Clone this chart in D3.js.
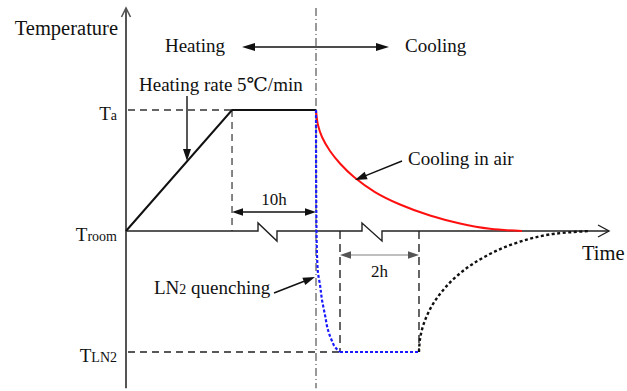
<!DOCTYPE html>
<html>
<head>
<meta charset="utf-8">
<script src="https://cdn.jsdelivr.net/npm/d3@7"></script>
<style>
  body { margin: 0; background: #fff; }
  svg { display: block; }
</style>
</head>
<body>
<svg id="chart" width="627" height="391" font-family="'Times New Roman', 'Liberation Serif', Tinos, 'DejaVu Serif', serif"></svg>
<script>
// Temperature levels in relative units: room = 0, annealing = 1, liquid nitrogen = -1
const levelValues = [1, 0, -1];
const levelMain = ["T", "T", "T"];
const levelSub = ["a", "room", "LN2"];

// Heating at 5 °C/min followed by the 10 h soak
const heatTime = [0, 21.95, 39.34];
const heatTemp = [0, 1, 1];

// Cooling in air (red)
const airTime = [39.34, 39.75, 40.58, 42.24, 44.31, 47.20, 51.55, 56.73, 62.94, 69.15, 75.36, 81.99];
const airTemp = [1.000, 0.876, 0.777, 0.661, 0.558, 0.446, 0.322, 0.219, 0.128, 0.062, 0.018, 0];

// LN2 quenching (blue) and the 2 h hold at LN2 temperature
const quenchTime = [39.34, 39.36, 39.44, 39.69, 40.17, 40.58, 41.20, 41.82, 42.65, 43.27, 44.31];
const quenchTemp = [1, 0.5, 0, -0.322, -0.446, -0.570, -0.694, -0.818, -0.909, -0.959, -1];
const holdTime = [44.31, 60.66];
const holdTemp = [-1, -1];

// Return to room temperature after the hold (black dotted)
const rewarmTime = [60.66, 60.87, 61.49, 62.53, 63.98, 66.05, 68.53, 71.84, 76.40, 81.57, 87.78, 96.07];
const rewarmTemp = [-1, -0.893, -0.785, -0.680, -0.577, -0.470, -0.371, -0.271, -0.169, -0.088, -0.028, 0];

// Axis-break symbols on the time axis (start, end)
const breakStart = [27.33, 48.86];
const breakEnd = [31.26, 53.00];

// Text
const phaseLabels = ["Heating", "Cooling"];
const axisTitles = ["Temperature", "Time"];

const svg = d3.select("#chart");
const x = d3.scaleLinear().domain([0, 100]).range([126, 609]);
const y = d3.scaleLinear().domain([-1, 1]).range([352, 110]);

const zip = (a, b) => a.map((v, i) => [v, b[i]]);
const lineX = d3.line().x(d => x(d[0])).y(d => y(d[1]));

function head(g, x1, y1, x2, y2, len, hw, color) {
  const a = Math.atan2(y2 - y1, x2 - x1);
  const bx = x2 - len * Math.cos(a), by = y2 - len * Math.sin(a);
  const px = -Math.sin(a) * hw, py = Math.cos(a) * hw;
  g.append("path")
    .attr("d", `M${x2},${y2}L${bx + px},${by + py}L${bx - px},${by - py}Z`)
    .attr("fill", color);
}
function arrow(g, x1, y1, x2, y2, opt) {
  const o = Object.assign({ color: "#111", headColor: null, w: 1.4, len: 10, hw: 3.5, both: false }, opt);
  const a = Math.atan2(y2 - y1, x2 - x1);
  const sx = o.both ? x1 + Math.cos(a) * o.len * 0.8 : x1;
  const sy = o.both ? y1 + Math.sin(a) * o.len * 0.8 : y1;
  g.append("line")
    .attr("x1", sx).attr("y1", sy)
    .attr("x2", x2 - Math.cos(a) * o.len * 0.8).attr("y2", y2 - Math.sin(a) * o.len * 0.8)
    .attr("stroke", o.color).attr("stroke-width", o.w);
  head(g, x1, y1, x2, y2, o.len, o.hw, o.headColor || o.color);
  if (o.both) head(g, x2, y2, x1, y1, o.len, o.hw, o.headColor || o.color);
}

const g = svg.append("g").attr("fill", "#111");
const yTop = 1.843, yBot = -1.30;

// Reference dashed lines for Ta and TLN2
g.append("line").attr("x1", x(0) + 2).attr("x2", x(heatTime[1])).attr("y1", y(1)).attr("y2", y(1))
  .attr("stroke", "#333").attr("stroke-width", 1.3).attr("stroke-dasharray", "7,5");
g.append("line").attr("x1", x(heatTime[1])).attr("x2", x(heatTime[1])).attr("y1", y(1)).attr("y2", y(0))
  .attr("stroke", "#444").attr("stroke-width", 1.3).attr("stroke-dasharray", "7,5");
g.append("line").attr("x1", x(0) + 2).attr("x2", x(holdTime[0])).attr("y1", y(-1)).attr("y2", y(-1))
  .attr("stroke", "#222").attr("stroke-width", 1.3).attr("stroke-dasharray", "7,5");
[holdTime[0], holdTime[1]].forEach(t => {
  g.append("line").attr("x1", x(t)).attr("x2", x(t)).attr("y1", y(0)).attr("y2", y(-1))
    .attr("stroke", "#555").attr("stroke-width", 1.8).attr("stroke-dasharray", "8,5");
});

// Heating / cooling boundary (dash-dot)
g.append("line").attr("x1", x(heatTime[2])).attr("x2", x(heatTime[2]))
  .attr("y1", y(yTop)).attr("y2", y(yBot))
  .attr("stroke", "#333").attr("stroke-width", 1).attr("stroke-dasharray", "8,3,1,3");

// Time axis with break symbols
let axisPath = `M${x(0)},${y(0)}`;
breakStart.forEach((s, i) => {
  axisPath += `L${x(s)},${y(0)}L${x(s)},${y(0) - 8}L${x(breakEnd[i])},${y(0) + 10}L${x(breakEnd[i])},${y(0)}`;
});
axisPath += `L${x(100)},${y(0)}`;
g.append("path").attr("d", axisPath).attr("fill", "none").attr("stroke", "#222").attr("stroke-width", 1.4);
g.append("path").attr("d", `M${x(100) - 11},${y(0) - 6}L${x(100)},${y(0)}L${x(100) - 11},${y(0) + 6}`)
  .attr("fill", "none").attr("stroke", "#222").attr("stroke-width", 1.4);

// Temperature axis
g.append("line").attr("x1", x(0)).attr("x2", x(0)).attr("y1", y(yTop)).attr("y2", y(yBot))
  .attr("stroke", "#555").attr("stroke-width", 2);
g.append("path").attr("d", `M${x(0) - 4.5},${y(yTop) + 9}L${x(0)},${y(yTop)}L${x(0) + 4.5},${y(yTop) + 9}`)
  .attr("fill", "none").attr("stroke", "#555").attr("stroke-width", 1.6);

// Heating profile
g.append("path").datum(zip(heatTime, heatTemp)).attr("d", lineX)
  .attr("fill", "none").attr("stroke", "#111").attr("stroke-width", 2);

// Cooling in air
g.append("path").datum(zip(airTime, airTemp)).attr("d", lineX.curve(d3.curveCatmullRom.alpha(0.5)))
  .attr("fill", "none").attr("stroke", "#ff1010").attr("stroke-width", 2);

// Return to room temperature
g.append("path").datum(zip(rewarmTime, rewarmTemp)).attr("d", lineX.curve(d3.curveCatmullRom.alpha(0.5)))
  .attr("fill", "none").attr("stroke", "#111").attr("stroke-width", 2.4).attr("stroke-dasharray", "3,2.5");

// LN2 quenching and hold
g.append("path").datum(zip(quenchTime, quenchTemp)).attr("d", lineX.curve(d3.curveMonotoneY))
  .attr("fill", "none").attr("stroke", "#1a1aff").attr("stroke-width", 2.2).attr("stroke-dasharray", "3,2");
g.append("path").datum(zip(holdTime, holdTemp)).attr("d", lineX.curve(d3.curveLinear))
  .attr("fill", "none").attr("stroke", "#1a1aff").attr("stroke-width", 2.2).attr("stroke-dasharray", "3,2");

// Level labels
levelValues.forEach((v, i) => {
  const t = g.append("text").attr("x", x(0) - 9).attr("y", y(v) + 10).attr("text-anchor", "end");
  t.append("tspan").attr("font-size", 19).text(levelMain[i]);
  t.append("tspan").attr("font-size", 14).text(levelSub[i]);
});

// Axis titles
g.append("text").attr("x", x(0) - 8).attr("y", 35).attr("text-anchor", "end")
  .attr("font-size", 20.5).text(axisTitles[0]);
g.append("text").attr("x", 582).attr("y", 260).attr("font-size", 20.5).text(axisTitles[1]);

// Heating <-> Cooling
g.append("text").attr("x", 195).attr("y", 52).attr("text-anchor", "middle").attr("font-size", 19).text(phaseLabels[0]);
g.append("text").attr("x", 405).attr("y", 52).attr("font-size", 19).text(phaseLabels[1]);
arrow(g, 242, 47, 389, 47, { both: true, len: 13, hw: 4, w: 1.5 });

// Heating rate annotation
g.append("text").attr("x", 139).attr("y", 91).attr("font-size", 19).text("Heating rate 5\u2103/min");
arrow(g, 187, 96, 187, 161, { len: 12, hw: 4, w: 1.4 });

// Cooling in air annotation
g.append("text").attr("x", 408).attr("y", 165).attr("font-size", 19).text("Cooling in air");
arrow(g, 402, 161, 355, 180, { len: 12, hw: 4, w: 1.4 });

// LN2 quenching annotation
const lq = g.append("text").attr("x", 154).attr("y", 294).attr("font-size", 19);
lq.append("tspan").text("LN");
lq.append("tspan").attr("font-size", 14).text("2");
lq.append("tspan").text(" quenching");
arrow(g, 274, 293, 315, 277, { len: 12, hw: 4, w: 1.4 });

// 10 h soak and 2 h hold durations
arrow(g, x(heatTime[1]), 212, x(heatTime[2]), 212, { both: true, len: 11, hw: 3.8, w: 1.4 });
g.append("text").attr("x", (x(heatTime[1]) + x(heatTime[2])) / 2).attr("y", 205)
  .attr("text-anchor", "middle").attr("font-size", 17).text("10h");
arrow(g, x(holdTime[0]), 255, x(holdTime[1]), 255, { both: true, len: 11, hw: 3.8, w: 1.4, color: "#aaa", headColor: "#555" });
g.append("text").attr("x", (x(holdTime[0]) + x(holdTime[1])) / 2).attr("y", 277)
  .attr("text-anchor", "middle").attr("font-size", 17).text("2h");
</script>
</body>
</html>
